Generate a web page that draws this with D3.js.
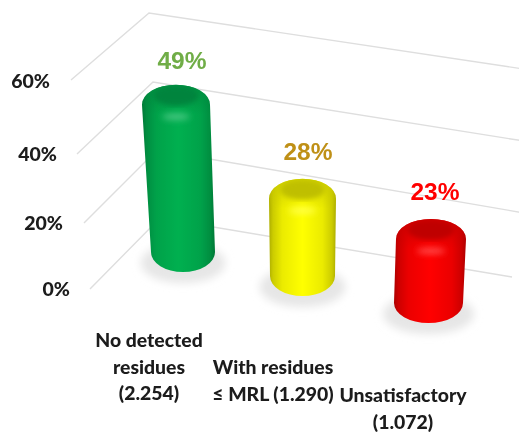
<!DOCTYPE html>
<html>
<head>
<meta charset="utf-8">
<script src="https://cdnjs.cloudflare.com/ajax/libs/d3/7.8.5/d3.min.js"></script>
<style>
  html, body { margin: 0; padding: 0; background: #fff; }
  svg { display: block; }
</style>
</head>
<body>
<svg id="chart" width="519" height="432"></svg>
<script>
var categories = [
  ["No detected", "residues", "(2.254)"],
  ["With residues", "≤ MRL (1.290)"],
  ["Unsatisfactory", "(1.072)"]
];
var values = [49, 28, 23];
var barColors = ["#00b050", "#ffff00", "#ff0000"];
var labelColors = ["#70ad47", "#bf9018", "#ff0000"];
var ticks = [0, 20, 40, 60];

var svg = d3.select("#chart");
var defs = svg.append("defs");

defs.append("filter").attr("id", "soft").append("feGaussianBlur").attr("stdDeviation", 0.55);
defs.append("filter").attr("id", "blur2").append("feGaussianBlur").attr("stdDeviation", 2.5);
defs.append("filter").attr("id", "blur3")
  .attr("x", "-40%").attr("y", "-150%").attr("width", "180%").attr("height", "400%")
  .append("feGaussianBlur").attr("stdDeviation", 3.2);
defs.append("filter").attr("id", "blur5")
  .attr("x", "-30%").attr("y", "-50%").attr("width", "160%").attr("height", "200%")
  .append("feGaussianBlur").attr("stdDeviation", 4.5);

// the three walls of the fake 3d box, one scale per edge
var frontX = d3.scaleLinear().domain(ticks).range([90, 84, 77, 71]);
var frontY = d3.scaleLinear().domain(ticks).range([289, 223, 154, 80]);
var backX = d3.scaleLinear().domain(ticks).range([160, 157, 153, 149]);
var backY = d3.scaleLinear().domain(ticks).range([218, 150, 82, 13]);
var endX = d3.scaleLinear().domain(ticks).range([512, 530, 530, 530]);
var endY = d3.scaleLinear().domain(ticks).range([277, 214, 142, 70]);

var tickRight = d3.scaleLinear().domain(ticks).range([70, 63, 57, 50]);
var tickBase = d3.scaleLinear().domain(ticks).range([296, 230, 161, 88]);

var idx = categories.map(function(d, i) { return i; });
var topX = d3.scaleLinear().domain([0, 1, 2]).range([176, 302.5, 431]);
var baseX = d3.scaleLinear().domain([0, 1, 2]).range([183, 302.5, 428.5]);
var baseY = d3.scaleLinear().domain([0, 1, 2]).range([272, 296, 323]);
var topW = d3.scaleLinear().domain([0, 1, 2]).range([68, 67, 70]);
var baseW = d3.scaleLinear().domain([0, 1, 2]).range([64, 65, 69]);
var depth = d3.scaleLinear().domain([0, 1, 2]).range([1, 1, 1.034]);
var height = d3.scaleLinear().domain([0, 60]).range([24, 224]);

var grid = svg.append("g").attr("fill", "none").attr("stroke", "#dedede").attr("stroke-width", 1.4).attr("filter", "url(#soft)");
grid.selectAll("path").data(ticks).join("path")
  .attr("d", function(t) {
    return d3.line()([[frontX(t), frontY(t)], [backX(t), backY(t)], [endX(t), endY(t)]]);
  });

svg.append("g").selectAll("text").data(ticks).join("text")
  .attr("x", tickRight)
  .attr("y", tickBase)
  .attr("text-anchor", "end")
  .attr("font-family", "Lato")
  .attr("font-weight", 900)
  .attr("font-size", 19.5)
  .attr("fill", "#1a1a1a")
  .attr("filter", "url(#soft)")
  .text(function(t) { return t + "%"; });

function barTop(i) {
  return baseY(i) - height(values[i]) * depth(i);
}

function barPath(i) {
  var bottom = baseY(i);
  var top = barTop(i);
  var tw = topW(i) / 2, bw = baseW(i) / 2;
  var ry = 20;
  return "M" + (topX(i) - tw) + "," + (top + ry) +
    "A" + tw + "," + ry + " 0 0 1 " + (topX(i) + tw) + "," + (top + ry) +
    "L" + (baseX(i) + bw) + "," + (bottom - ry) +
    "A" + bw + "," + ry + " 0 0 1 " + (baseX(i) - bw) + "," + (bottom - ry) + "Z";
}

idx.forEach(function(i) {
  var c = barColors[i];
  var dark = d3.interpolateRgb(c, "#000");
  var light = d3.interpolateRgb(c, "#fff");
  var g = defs.append("linearGradient").attr("id", "body" + i);
  [[0, dark(0.32)], [0.06, dark(0.2)], [0.2, dark(0.08)], [0.5, c], [0.8, dark(0.08)], [0.94, dark(0.2)], [1, dark(0.32)]].forEach(function(s) {
    g.append("stop").attr("offset", s[0]).attr("stop-color", s[1]);
  });
  var sh = defs.append("linearGradient").attr("id", "shoulder" + i).attr("x2", 0).attr("y2", 1);
  sh.append("stop").attr("offset", 0).attr("stop-color", dark(0.22)).attr("stop-opacity", 0.8);
  sh.append("stop").attr("offset", 1).attr("stop-color", dark(0.22)).attr("stop-opacity", 0);
  defs.append("clipPath").attr("id", "clip" + i).append("path").attr("d", barPath(i));

  var bottom = baseY(i);
  var top = barTop(i);
  var b = svg.append("g");

  // floor shadow
  b.append("ellipse")
    .attr("cx", baseX(i))
    .attr("cy", bottom - 9)
    .attr("rx", baseW(i) * 0.66)
    .attr("ry", 20)
    .attr("fill", "#e6e6e6")
    .attr("filter", "url(#blur5)");

  b.append("path").attr("d", barPath(i)).attr("fill", "url(#body" + i + ")").attr("filter", "url(#soft)");

  var inner = b.append("g").attr("clip-path", "url(#clip" + i + ")");
  inner.append("rect")
    .attr("x", topX(i) - topW(i)).attr("y", top)
    .attr("width", topW(i) * 2).attr("height", 30)
    .attr("fill", "url(#shoulder" + i + ")");
  // light rim under the cap
  inner.append("ellipse")
    .attr("cx", topX(i)).attr("cy", top + 32)
    .attr("rx", topW(i) * 0.2).attr("ry", 3)
    .attr("fill", light(0.3))
    .attr("filter", "url(#blur3)");
  // flat dark cap on the top
  inner.append("ellipse")
    .attr("cx", topX(i)).attr("cy", top + 11)
    .attr("rx", topW(i) * 0.33).attr("ry", 10)
    .attr("fill", dark(0.25))
    .attr("filter", "url(#blur2)");
});

var valueX = d3.scaleLinear().domain([0, 1, 2]).range([182, 308, 435]);

svg.append("g").selectAll("text").data(values).join("text")
  .attr("x", function(d, i) { return valueX(i); })
  .attr("y", function(d, i) { return barTop(i) - (i ? 18.5 : 16); })
  .attr("text-anchor", "middle")
  .attr("font-family", "Liberation Sans")
  .attr("font-weight", 700)
  .attr("font-size", 24.5)
  .attr("fill", function(d, i) { return labelColors[i]; })
  .attr("filter", "url(#soft)")
  .text(function(d) { return d + "%"; });

var labelX = d3.scaleLinear().domain([0, 1, 2]).range([149, 273, 403]);
var labelY = d3.scaleLinear().domain([0, 1, 2]).range([347, 374, 402]);
var labelLine = 26.5;

svg.append("g").selectAll("g").data(categories).join("g")
  .attr("filter", "url(#soft)")
  .each(function(lines, i) {
    d3.select(this).selectAll("text").data(lines).join("text")
      .attr("x", labelX(i))
      .attr("y", function(d, j) { return labelY(i) + j * labelLine; })
      .attr("text-anchor", "middle")
      .attr("font-family", "Lato")
      .attr("font-weight", 900)
      .attr("font-size", 19.4)
      .attr("fill", "#1a1a1a")
      .text(function(d) { return d; });
  });
</script>
</body>
</html>
